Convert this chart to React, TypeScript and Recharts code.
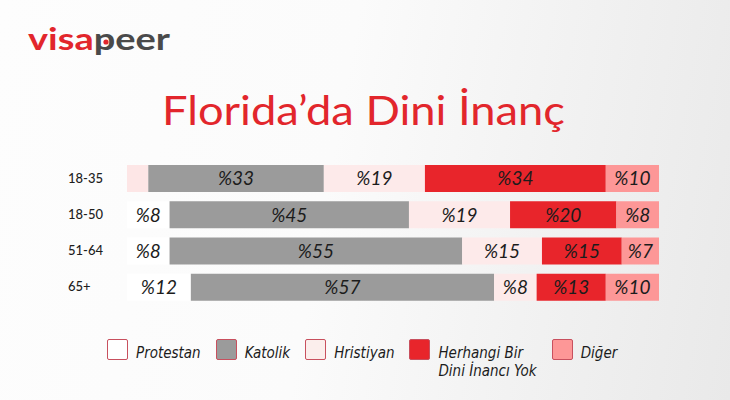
import React from 'react';
import { BarChart, Bar, XAxis, YAxis, LabelList, Cell } from 'recharts';

const categories = ['18-35', '18-50', '51-64', '65+'];
const protestan = [4, 8, 8, 12];
const katolik = [33, 45, 55, 57];
const hristiyan = [19, 19, 15, 8];
const herhangi = [34, 20, 15, 13];
const diger = [10, 8, 7, 10];

const legendNames = ['Protestan', 'Katolik', 'Hristiyan', 'Herhangi Bir\nDini İnancı Yok', 'Diğer'];

const data = categories.map((c, i) => ({
  cat: c,
  protestan: protestan[i],
  katolik: katolik[i],
  hristiyan: hristiyan[i],
  herhangi: herhangi[i],
  diger: diger[i],
}));

const series = [
  { key: 'protestan', fill: '#ffffff', legendFill: '#ffffff' },
  { key: 'katolik', fill: '#9b9b9b', legendFill: '#9b9b9b' },
  { key: 'hristiyan', fill: '#fdeaea', legendFill: '#fbeeec' },
  { key: 'herhangi', fill: '#e8252b', legendFill: '#e8252b' },
  { key: 'diger', fill: '#fd9797', legendFill: '#fd9797' },
];

const RED = '#e2262c';

const renderLabel = (props: any) => {
  const { x, y, width, height, value } = props;
  if (value == null || value < 5) return null;
  return (
    <text
      x={Number(x) + Number(width) / 2}
      y={Number(y) + Number(height) / 2}
      dy="0.36em"
      textAnchor="middle"
      fontSize={19}
      fontStyle="italic"
      fontFamily="Lato, sans-serif"
      fill="#1c1c1c"
    >
      {'%' + value}
    </text>
  );
};

const CatTick = (props: any) => {
  const { y, payload } = props;
  return (
    <text x={68} y={y} dy="0.35em" fontSize={13} fontFamily="Lato, sans-serif" fontWeight={500} fill="#1e1e1e">
      {payload.value}
    </text>
  );
};

export default function App() {
  return (
    <div
      style={{
        position: 'absolute',
        left: 0,
        top: 0,
        width: 730,
        height: 400,
        overflow: 'hidden',
        background: 'linear-gradient(100deg, #fdfdfd 0%, #fbfbfb 45%, #f1f1f1 75%, #e9e9e9 100%)',
      }}
    >
      <svg width={730} height={400} style={{ position: 'absolute', left: 0, top: 0 }}>
        <text x={28} y={50} fontSize={30} fontWeight={700} fontFamily="Lato, sans-serif" textLength={142} lengthAdjust="spacingAndGlyphs">
          <tspan fill={RED}>visa</tspan>
          <tspan fill="#4a4a4a">peer</tspan>
        </text>
        <circle cx={106} cy={42} r={2.6} fill={RED} />
        <text x={162} y={125} fontSize={40} fontFamily="Lato, sans-serif" fill={RED} textLength={403} lengthAdjust="spacingAndGlyphs">
          Florida’da Dini İnanç
        </text>
      </svg>
      <div style={{ position: 'absolute', left: 0, top: 0 }}>
        <BarChart
          layout="vertical"
          width={730}
          height={400}
          data={data}
          margin={{ top: 160, right: 71, bottom: 95, left: 67 }}
          barSize={27}
        >
          <XAxis type="number" domain={[0, 100]} hide />
          <YAxis type="category" dataKey="cat" width={60} axisLine={false} tickLine={false} tick={<CatTick />} />
          {series.map((s) => (
            <Bar key={s.key} dataKey={s.key} stackId="a" fill={s.fill} isAnimationActive={false}>
              {s.key === 'protestan' &&
                data.map((d, i) => <Cell key={i} fill={i === 0 ? '#fde6e6' : s.fill} />)}
              <LabelList dataKey={s.key} content={renderLabel} />
            </Bar>
          ))}
        </BarChart>
      </div>
      <div
        style={{
          position: 'absolute',
          left: 107,
          top: 339,
          display: 'flex',
          alignItems: 'flex-start',
        }}
      >
        {series.map((s, i) => (
          <div key={s.key} style={{ display: 'flex', alignItems: 'flex-start', marginRight: 15 }}>
            <div
              style={{
                width: 21,
                height: 21,
                boxSizing: 'border-box',
                border: '1.5px solid #c8505e',
                borderRadius: 2,
                background: s.legendFill,
              }}
            />
            <div
              style={{
                marginLeft: 8,
                marginTop: 5,
                fontStyle: 'italic',
                fontFamily: '"Liberation Sans Narrow", "DejaVu Sans Condensed", sans-serif',
                fontSize: 15,
                lineHeight: '18px',
                color: '#1c1c1c',
                whiteSpace: 'pre',
              }}
            >
              {legendNames[i]}
            </div>
          </div>
        ))}
      </div>
    </div>
  );
}
